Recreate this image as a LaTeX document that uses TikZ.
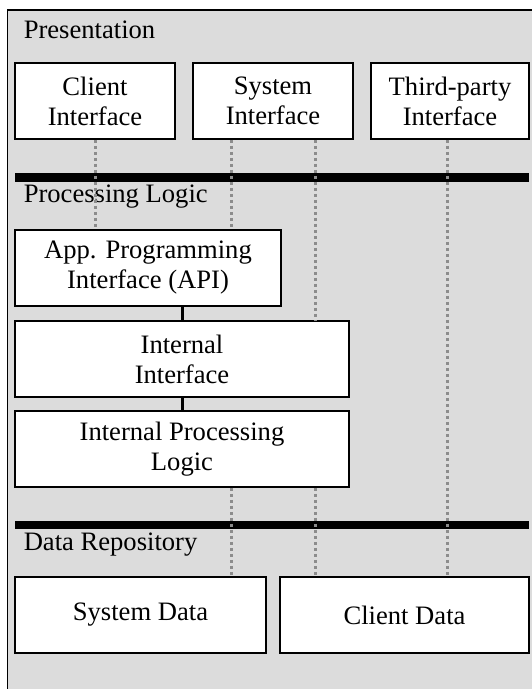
\documentclass[tikz,border=0pt]{standalone}
\usepackage{fontspec}
\setmainfont{Liberation Serif}
\usetikzlibrary{positioning}

\definecolor{layergray}{HTML}{DCDCDC}
\definecolor{linkgray}{HTML}{8C8C8C}

\begin{document}
\begin{tikzpicture}[
    x = 1pt, y = -1pt, % pixel grid, y downwards
    font = \fontsize{26.6}{30}\selectfont,
    line width = 1.5pt
]

\tikzstyle{layerbox}=[
    draw = black,
    fill = white,
    align = center,
    minimum height = 76pt,
    inner sep = 0pt,
]
\tikzstyle{layertitle}=[
    anchor = west,
    inner sep = 0pt,
]
\tikzstyle{link}=[
    draw = linkgray,
    line width = 3pt,
    dash pattern = on 3pt off 3pt,
]
\tikzstyle{stack}=[
    draw = black,
    line width = 3pt,
]

\clip (0,0) rectangle (532,689);
\draw[fill=layergray] (7.5,10) rectangle (545,700);

% layer titles and separators
\node[layertitle] (tpres) at (23,30) {Presentation};
\node[layertitle] (tproc) at (23,197) {Processing Logic};
\node[layertitle] (tdata) at (23,545) {Data Repository};
\fill (15,173) rectangle (529,182);
\fill (15,521) rectangle (529,529);

% presentation
\node[layerbox, minimum width=160pt] (client) at (95,101) {Client\\Interface};
\node[layerbox, minimum width=160pt] (system) at (273,101) {System\\Interface};
\node[layerbox, minimum width=158pt] (third) at (450,101) {Third-party\\Interface};

% processing logic
\node[layerbox, minimum width=266pt] (api) at (148,268) {App. Programming\\Interface (API)};
\node[layerbox, minimum width=334pt] (intif) at (182,359) {Internal\\Interface};
\node[layerbox, minimum width=334pt] (ipl) at (182,449) {Internal Processing\\Logic};

% data repository
\node[layerbox, minimum width=251pt] (sysdata) at (140.5,615) {System Data};
\node[layerbox, minimum width=249pt] (clidata) at (404.5,615) {Client Data};

\draw[stack] (api.south -| intif.north) -- (intif.north);
\draw[stack] (intif) -- (ipl);

\path[link] (client.south) -- (client.south |- api.north);
\path[link] ([xshift=-42pt]system.south) coordinate (s1)
    -- (s1 |- api.north);
\path[link] ([xshift=42pt]system.south) coordinate (s2)
    -- (s2 |- intif.north);
\path[link] ([xshift=-3pt]third.south) coordinate (t1)
    -- (t1 |- clidata.north);
\path[link] ([xshift=49pt]ipl.south) coordinate (p1)
    -- (p1 |- sysdata.north);
\path[link] ([xshift=133pt]ipl.south) coordinate (p2)
    -- (p2 |- clidata.north);
\end{tikzpicture}
\end{document}
